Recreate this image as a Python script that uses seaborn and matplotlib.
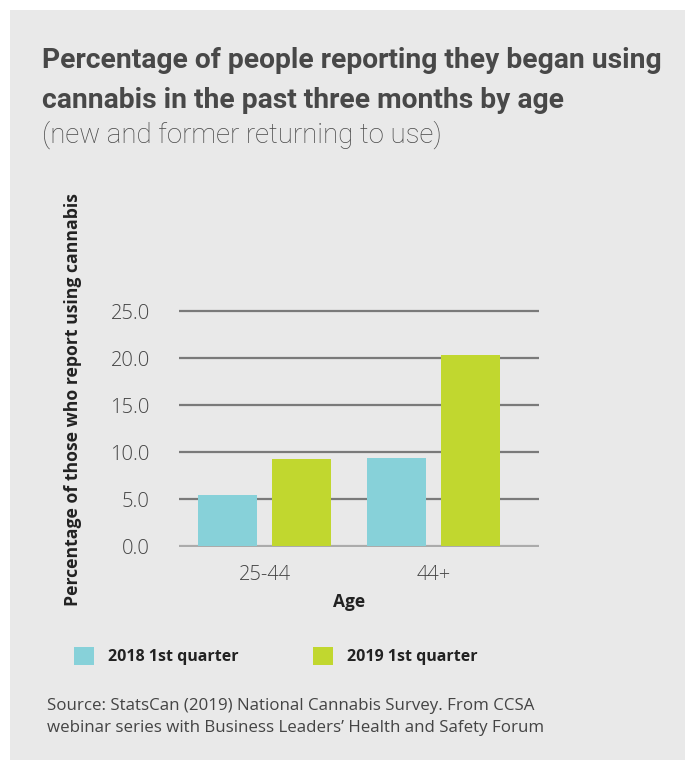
import pandas as pd
import matplotlib.pyplot as plt
import seaborn as sns

ages = ['25-44', '44+']
q2018 = [5.4, 9.4]
q2019 = [9.3, 20.3]
series = ['2018 1st quarter', '2019 1st quarter']
yticks = [0, 5, 10, 15, 20, 25]

df = pd.DataFrame({'Age': ages * 2,
                   'quarter': [series[0]] * 2 + [series[1]] * 2,
                   'value': q2018 + q2019})

sns.set_theme(style='white')
plt.rcParams['font.family'] = ['Open Sans', 'DejaVu Sans']

bg = '#e9e9e9'
fig = plt.figure(figsize=(6.85, 7.6), dpi=100, facecolor='white')
# grey card behind everything
fig.patches.append(plt.Rectangle((10 / 685, 0), 1, 1 - 10 / 760, transform=fig.transFigure,
                                 facecolor=bg, edgecolor='none', zorder=-10))

ax = fig.add_axes([0.2613, 0.2797, 0.5255, 0.3147])
ax.set_facecolor(bg)
sns.barplot(data=df, x='Age', y='value', hue='quarter',
            palette=['#87d1d9', '#c1d72f'], width=0.876, gap=0.2,
            saturation=1, linewidth=0, edgecolor='none',
            legend=True, ax=ax, zorder=3)

ax.set_ylim(-0.15, 25.3)
ax.set_xlim(-0.506, 1.624)
ax.set_yticks(yticks)
ax.set_yticklabels([f'{t:.1f}' for t in yticks])
ax.grid(axis='y', color='#7a7a7a', lw=1.6, zorder=1)
ax.get_ygridlines()[0].set_color('#ababab')
for s in ax.spines.values():
    s.set_visible(False)
ax.tick_params(axis='y', length=0, pad=21, labelsize=14.5, labelcolor='#444444')
ax.tick_params(axis='x', length=0, pad=13, labelsize=14.5, labelcolor='#444444')
for lab in ax.get_xticklabels() + ax.get_yticklabels():
    lab.set_fontweight('light')

ax.set_ylabel('')
ax.set_xlabel('Age', fontsize=12.5, fontweight='bold', color='#222222')
ax.xaxis.set_label_coords(0.472, -0.228)
ax.xaxis.label.set_va('center')

fig.text(73 / 685, 1 - 400 / 760, 'Percentage of those who report using cannabis',
         rotation=90, ha='center', va='center', fontsize=12.7, fontweight='bold', color='#222222')

handles, labels = ax.get_legend_handles_labels()
ax.get_legend().remove()
fig.legend(handles, labels, loc='center left', bbox_to_anchor=(74 / 685, 1 - 656 / 760),
           ncol=2, frameon=False, handlelength=1.25, handleheight=1.45,
           handletextpad=0.85, columnspacing=4.7, borderpad=0, borderaxespad=0,
           prop={'weight': 'bold', 'size': 11.5})
for t in fig.legends[0].get_texts():
    t.set_color('#222222')

title_font = ['Roboto', 'DejaVu Sans']
fig.text(42 / 685, 1 - 60 / 760, 'Percentage of people reporting they began using',
         family=title_font, fontsize=20.3, fontweight='bold', color='#484848', va='center')
fig.text(42 / 685, 1 - 100 / 760, 'cannabis in the past three months by age',
         family=title_font, fontsize=20.3, fontweight='bold', color='#484848', va='center')
fig.text(42 / 685, 1 - 135 / 760, '(new and former returning to use)',
         family=title_font, fontsize=19.9, fontweight='light', color='#484848', va='center')

fig.text(47 / 685, 1 - 706 / 760, 'Source: StatsCan (2019) National Cannabis Survey. From CCSA',
         fontsize=12.2, color='#444444', va='center')
fig.text(47 / 685, 1 - 728 / 760, 'webinar series with Business Leaders\u2019 Health and Safety Forum',
         fontsize=12.2, color='#444444', va='center')

fig.savefig('out.png', dpi=100, facecolor='white')
